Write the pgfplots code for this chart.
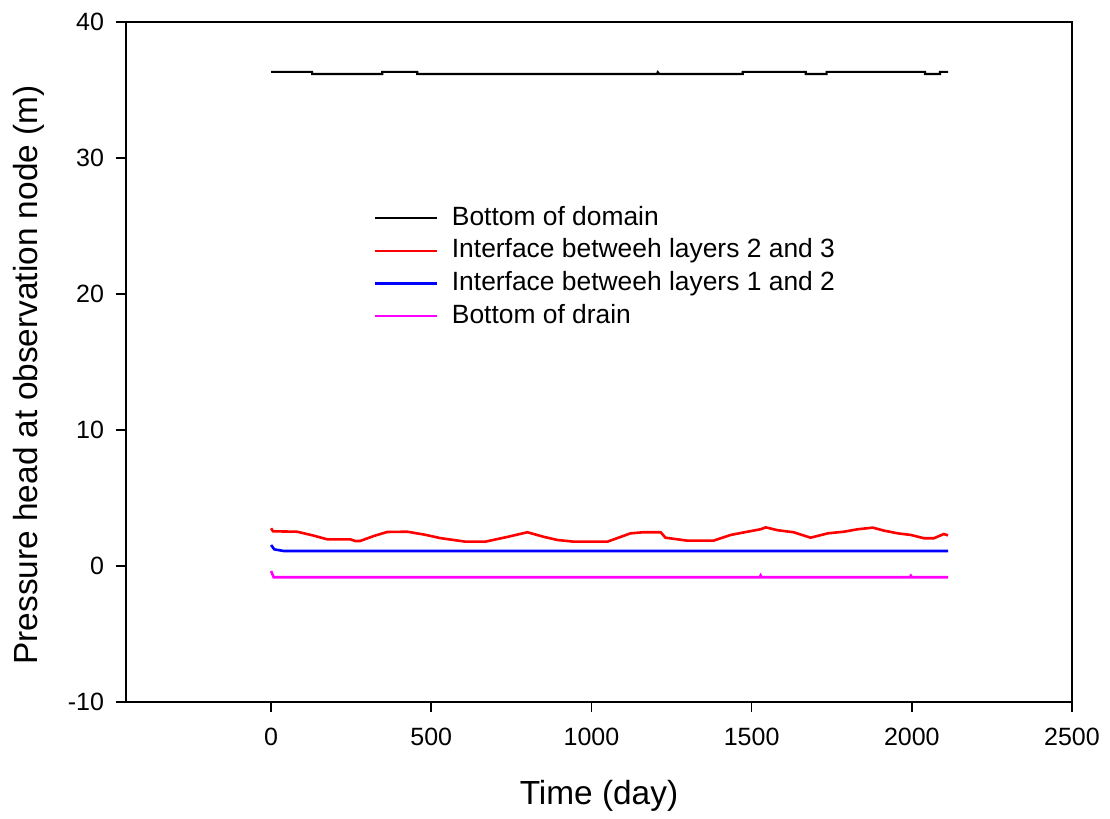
\documentclass[border=0pt]{standalone}
\usepackage{fontspec}
\setmainfont{Liberation Sans}
\usepackage{pgfplots}
\pgfplotsset{compat=1.18}
\definecolor{cmag}{RGB}{255,0,255}
\begin{document}
\begin{tikzpicture}
\begin{axis}[
 scale only axis, width=473pt, height=340pt,
 xmin=-453, xmax=2500, ymin=-10, ymax=40,
 xtick={0,500,1000,1500,2000,2500}, ytick={-10,0,10,20,30,40},
 xtick pos=bottom, ytick pos=left, tick align=outside, major tick length=5pt,
 axis line style={line width=0.8pt},
 every tick/.style={line width=0.8pt, black},
 tick label style={font=\fontsize{12.5}{14}\selectfont},
 /pgf/number format/assume math mode=true,
 /pgf/number format/1000 sep={},
 xticklabel style={yshift=-4.5pt},
 yticklabel style={xshift=-2.5pt},
 xlabel={Time (day)},
 ylabel={Pressure head at observation node (m)},
 label style={font=\fontsize{16.7}{19}\selectfont},
 xlabel style={at={(axis description cs:0.5,-0.138)}, anchor=center},
 ylabel style={at={(axis description cs:-0.1025,0.481)}, anchor=center},
 legend style={draw=none, fill=none, at={(axis description cs:0.261,0.731)}, anchor=north west,
   font=\fontsize{13.2}{15}\selectfont, inner sep=0pt, row sep=3.3pt, column sep=7pt,
   nodes={inner sep=0pt, text height=10pt, text depth=3pt}},
 legend cell align=left,
 legend image code/.code={\draw[#1] (0pt,0pt) -- (31pt,0pt);},
]
\addplot[black, line width=1.1pt] coordinates {
(0,36.33) (128,36.33) (128,36.17) (347,36.17) (347,36.33) (456,36.33) (456,36.17)
(1205,36.17) (1207,36.3) (1212,36.17) (1472,36.17) (1472,36.33) (1669,36.33)
(1669,36.17) (1734,36.17) (1734,36.33) (2041,36.33) (2041,36.17) (2088,36.17)
(2088,36.33) (2113,36.33)};
\addlegendentry{Bottom of domain}
\addplot[red, line width=1.3pt] coordinates {
(0,2.77) (6,2.55) (81,2.52) (130,2.25) (175,1.96) (247,1.96) (262,1.84) (278,1.84)
(320,2.2) (362,2.5) (425,2.52) (480,2.3) (528,2.05) (606,1.79) (669,1.79) (740,2.15)
(800,2.48) (850,2.15) (894,1.91) (944,1.79) (1050,1.79) (1122,2.4) (1162,2.48)
(1216,2.48) (1231,2.08) (1300,1.86) (1381,1.86) (1434,2.28) (1487,2.52) (1528,2.70)
(1544,2.84) (1581,2.63) (1631,2.48) (1684,2.08) (1738,2.4) (1788,2.52) (1831,2.70)
(1878,2.82) (1913,2.6) (1956,2.4) (1997,2.28) (2038,2.04) (2069,2.04) (2100,2.35)
(2113,2.25)};
\addlegendentry{Interface betweeh layers 2 and 3}
\addplot[blue, line width=1.3pt] coordinates {
(0,1.54) (10,1.22) (40,1.1) (2113,1.1)};
\addlegendentry{Interface betweeh layers 1 and 2}
\addplot[cmag, line width=1.3pt] coordinates {
(0,-0.37) (8,-0.83) (1525,-0.83) (1528,-0.7) (1531,-0.83) (1994,-0.83) (1997,-0.72)
(2000,-0.83) (2113,-0.83)};
\addlegendentry{Bottom of drain}
\end{axis}
\path ([shift={(-63pt,-56pt)}]current axis.south west) rectangle ([shift={(19pt,11pt)}]current axis.north east);
\end{tikzpicture}
\end{document}
